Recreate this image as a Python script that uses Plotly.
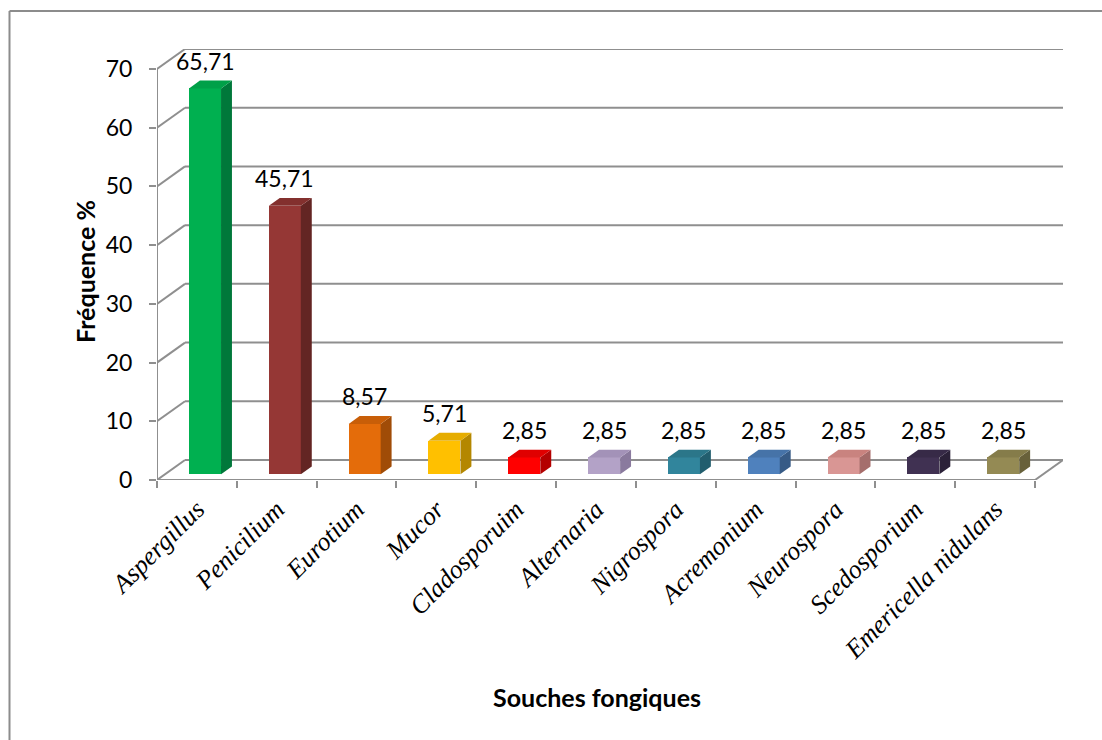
import plotly.graph_objects as go

# ---- data ----
categories = ["Aspergillus", "Penicilium", "Eurotium", "Mucor", "Cladosporuim",
              "Alternaria", "Nigrospora", "Acremonium", "Neurospora", "Scedosporium",
              "Emericella nidulans"]
values = [65.71, 45.71, 8.57, 5.71, 2.85, 2.85, 2.85, 2.85, 2.85, 2.85, 2.85]
y_ticks = [0, 10, 20, 30, 40, 50, 60, 70]

# ---- styles ----
front_colors = ["#00B050", "#953735", "#E46C0A", "#FFC000", "#FF0000", "#B3A2C7",
                "#31859C", "#4F81BD", "#D99694", "#403152", "#948A54"]
side_colors = ["#00783A", "#632523", "#A04C07", "#B48700", "#B40000", "#8A7A9E",
               "#225E6E", "#375B86", "#A56E6C", "#2B2138", "#68613A"]
top_colors = ["#00A048", "#83302E", "#C85E08", "#E6AD00", "#E00000", "#A392B8",
              "#2B7689", "#4673A8", "#C9837F", "#372A47", "#857C4A"]

GRID = "#8f8f8f"
W, H = 1102, 740
L_PX, R_PX, T_PX, B_PX = 157, 1063, 49, 480
n = len(categories)
kx = 878 / n                 # px per category
ymax_val = 70
ky = (B_PX - 69) / ymax_val  # px per unit
DXu = 28 / kx                # depth offset in data units
DYu = 20 / ky
f0, f1 = 0.29, 0.68          # bar depth fractions
half_w = 16 / kx

xr = [-0.5, n - 0.5 + DXu]
yr = [0, ymax_val + DYu]

fig = go.Figure()

idx = list(range(n))

# front faces of bars
fig.add_trace(go.Bar(
    x=[i + f0 * DXu for i in idx], y=values, base=f0 * DYu, width=2 * half_w,
    marker=dict(color=front_colors, line=dict(width=0)), hoverinfo="skip",
    showlegend=False))

# side and top faces
for i, v in zip(idx, values):
    xl = i - half_w
    xrt = i + half_w
    sx = [xrt + f0 * DXu, xrt + f1 * DXu, xrt + f1 * DXu, xrt + f0 * DXu, xrt + f0 * DXu]
    sy = [f0 * DYu, f1 * DYu, v + f1 * DYu, v + f0 * DYu, f0 * DYu]
    fig.add_trace(go.Scatter(x=sx, y=sy, fill="toself", mode="lines",
                             line=dict(width=0, color=side_colors[i]),
                             fillcolor=side_colors[i], hoverinfo="skip", showlegend=False))
    tx = [xl + f0 * DXu, xrt + f0 * DXu, xrt + f1 * DXu, xl + f1 * DXu, xl + f0 * DXu]
    ty = [v + f0 * DYu, v + f0 * DYu, v + f1 * DYu, v + f1 * DYu, v + f0 * DYu]
    fig.add_trace(go.Scatter(x=tx, y=ty, fill="toself", mode="lines",
                             line=dict(width=0, color=top_colors[i]),
                             fillcolor=top_colors[i], hoverinfo="skip", showlegend=False))

shapes = []
# back wall gridlines + side diagonals
for t in y_ticks:
    shapes.append(dict(type="line", xref="x", yref="y", x0=-0.5, y0=t, x1=-0.5 + DXu, y1=t + DYu,
                       line=dict(color=GRID, width=2), layer="below"))
    shapes.append(dict(type="line", xref="x", yref="y", x0=-0.5 + DXu, y0=t + DYu,
                       x1=n - 0.5 + DXu, y1=t + DYu, line=dict(color=GRID, width=2), layer="below"))
# floor front edge and right edge
shapes.append(dict(type="line", xref="x", yref="y", x0=-0.5, y0=0, x1=n - 0.5, y1=0,
                   line=dict(color=GRID, width=2), layer="below"))
shapes.append(dict(type="line", xref="x", yref="y", x0=n - 0.5, y0=0, x1=n - 0.5 + DXu, y1=DYu,
                   line=dict(color=GRID, width=2), layer="below"))
# y axis line
shapes.append(dict(type="line", xref="x", yref="y", x0=-0.5, y0=0, x1=-0.5, y1=ymax_val,
                   line=dict(color=GRID, width=2), layer="below"))
# chart border (left and top edges only visible)
bx0 = (9.5 - L_PX) / (R_PX - L_PX)
by1 = (B_PX - 11) / (B_PX - T_PX)
bx1 = (W + 20 - L_PX) / (R_PX - L_PX)
by0 = (B_PX - H - 20) / (B_PX - T_PX)
shapes.append(dict(type="line", xref="paper", yref="paper", x0=bx0, y0=by0, x1=bx0, y1=by1,
                   line=dict(color="#8c8c8c", width=2), layer="below"))
shapes.append(dict(type="line", xref="paper", yref="paper", x0=bx0, y0=by1, x1=bx1, y1=by1,
                   line=dict(color="#8c8c8c", width=2), layer="below"))

annotations = []
for i, v in zip(idx, values):
    annotations.append(dict(x=i + f0 * DXu, y=v + f1 * DYu, xref="x", yref="y",
                            text=f"{v:.2f}".replace(".", ","), showarrow=False,
                            yanchor="bottom", yshift=4,
                            font=dict(family="Lato, Open Sans, sans-serif", size=23, color="#000")))
annotations.append(dict(x=(85 - L_PX) / (R_PX - L_PX), y=(B_PX - 272) / (B_PX - T_PX),
                        xref="paper", yref="paper", text="<b>Fréquence %</b>", textangle=-90,
                        showarrow=False, xanchor="center", yanchor="middle",
                        font=dict(family="Lato, Open Sans, sans-serif", size=25, color="#000")))
annotations.append(dict(x=(597 - L_PX) / (R_PX - L_PX), y=(B_PX - 697) / (B_PX - T_PX),
                        xref="paper", yref="paper", text="<b>Souches fongiques</b>",
                        showarrow=False, xanchor="center", yanchor="middle",
                        font=dict(family="Lato, Open Sans, sans-serif", size=25, color="#000")))

fig.update_layout(
    width=W, height=H,
    margin=dict(l=L_PX, r=W - R_PX, t=T_PX, b=H - B_PX, pad=0),
    paper_bgcolor="white", plot_bgcolor="rgba(0,0,0,0)",
    shapes=shapes, annotations=annotations, bargap=0,
    xaxis=dict(range=xr, tickmode="array", tickvals=idx, ticktext=categories,
               tickangle=-45, ticks="", showgrid=False, zeroline=False, showline=False,
               tickfont=dict(family="Liberation Serif, Times New Roman, serif", size=26,
                             style="italic", color="#000"),
               ticklabelstandoff=8,
               minor=dict(tickmode="linear", tick0=-0.5, dtick=1, ticks="outside",
                          ticklen=7, tickcolor=GRID, tickwidth=2, showgrid=False),
               fixedrange=True),
    yaxis=dict(range=yr, tickmode="array", tickvals=y_ticks, ticks="outside", ticklen=7,
               tickcolor=GRID, tickwidth=2, showgrid=False, zeroline=False, showline=False,
               tickfont=dict(family="Lato, Open Sans, sans-serif", size=23, color="#000"),
               ticklabelstandoff=12, fixedrange=True),
)

fig.write_html("out.html",
               post_script="document.body.style.margin='0';"
                           "document.body.style.overflow='hidden';"
                           "document.documentElement.style.overflow='hidden';")
